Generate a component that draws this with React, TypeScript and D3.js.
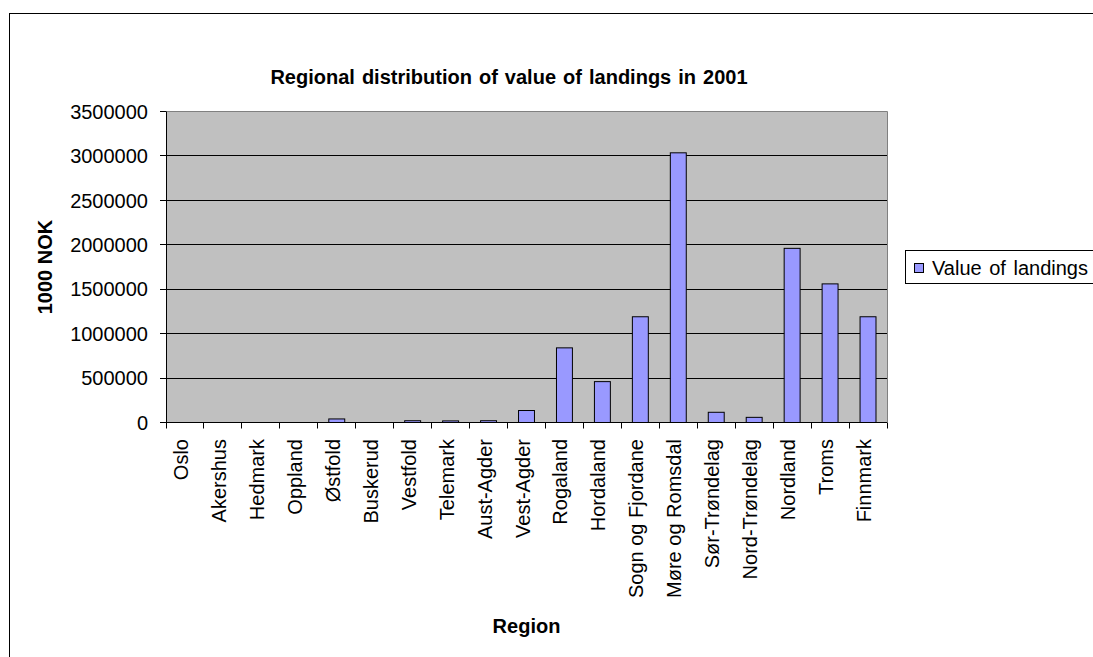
import React from "react";
import * as d3 from "d3";

// Value of landings per county, 1000 NOK
const regions = [
  "Oslo",
  "Akershus",
  "Hedmark",
  "Oppland",
  "Østfold",
  "Buskerud",
  "Vestfold",
  "Telemark",
  "Aust-Agder",
  "Vest-Agder",
  "Rogaland",
  "Hordaland",
  "Sogn og Fjordane",
  "Møre og Romsdal",
  "Sør-Trøndelag",
  "Nord-Trøndelag",
  "Nordland",
  "Troms",
  "Finnmark",
];
const landings = [
  0, 0, 0, 0, 40000, 0, 20000, 18000, 20000, 135000, 840000, 460000, 1190000,
  3035000, 115000, 58000, 1960000, 1560000, 1190000,
];
const yTicks = [0, 500000, 1000000, 1500000, 2000000, 2500000, 3000000, 3500000];

const W = 1093;
const H = 657;
const plot = { left: 166, right: 887, top: 111.5, bottom: 422.5 };
const FONT = "Arial, 'Liberation Sans', Helvetica, sans-serif";

export default function App() {
  const x = d3
    .scaleBand<string>()
    .domain(regions)
    .range([plot.left, plot.right])
    .paddingInner(0)
    .paddingOuter(0);
  const y = d3.scaleLinear().domain([0, 3500000]).range([plot.bottom, plot.top]);
  const barW = x.bandwidth() * 0.42;
  const snap = (v: number) => Math.round(v - 0.5) + 0.5;

  return (
    <svg
      width={W}
      height={H}
      style={{ position: "absolute", left: 0, top: 0, background: "#fff" }}
      fontFamily={FONT}
    >
      {/* chart frame */}
      <rect x={9.5} y={13.5} width={1200} height={800} fill="#fff" stroke="#000" strokeWidth={1} />

      {/* title */}
      <text
        x={509}
        y={84}
        textAnchor="middle"
        fontSize={20}
        fontWeight="bold"
        wordSpacing={1.5}
        fill="#000"
      >
        Regional distribution of value of landings in 2001
      </text>

      {/* plot background */}
      <rect
        x={plot.left}
        y={plot.top}
        width={plot.right - plot.left}
        height={plot.bottom - plot.top}
        fill="#c0c0c0"
      />
      {/* plot border (top & right) */}
      <path
        d={`M${plot.left},${plot.top}H${snap(plot.right)}V${plot.bottom}`}
        fill="none"
        stroke="#808080"
        strokeWidth={1}
      />

      {/* gridlines */}
      {yTicks.slice(1, -1).map((t) => (
        <line
          key={`g${t}`}
          x1={plot.left}
          x2={plot.right}
          y1={snap(y(t))}
          y2={snap(y(t))}
          stroke="#000"
          strokeWidth={1}
        />
      ))}

      {/* bars */}
      {landings.map((v, i) => {
        const cx = (x(regions[i]) as number) + x.bandwidth() / 2;
        const top = y(v);
        const h = plot.bottom - top;
        if (h < 0.5) return null;
        return (
          <rect
            key={`b${i}`}
            x={cx - barW / 2}
            y={top}
            width={barW}
            height={h}
            fill="#9999ff"
            stroke="#000"
            strokeWidth={1}
          />
        );
      })}

      {/* y axis */}
      <line x1={snap(plot.left)} x2={snap(plot.left)} y1={plot.top} y2={plot.bottom} stroke="#000" />
      {yTicks.map((t) => (
        <g key={`yt${t}`}>
          <line
            x1={plot.left - 6}
            x2={plot.left}
            y1={snap(y(t))}
            y2={snap(y(t))}
            stroke="#000"
          />
          <text
            x={148}
            y={y(t)}
            dy="0.36em"
            textAnchor="end"
            fontSize={20}
            fill="#000"
          >
            {t}
          </text>
        </g>
      ))}

      {/* x axis */}
      <line x1={plot.left} x2={plot.right} y1={snap(plot.bottom)} y2={snap(plot.bottom)} stroke="#000" />
      {regions.map((r, i) => (
        <line
          key={`xt${i}`}
          x1={snap(x(r) as number)}
          x2={snap(x(r) as number)}
          y1={plot.bottom}
          y2={plot.bottom + 6}
          stroke="#000"
        />
      ))}
      <line
        x1={snap(plot.right)}
        x2={snap(plot.right)}
        y1={plot.bottom}
        y2={plot.bottom + 6}
        stroke="#000"
      />
      {regions.map((r) => {
        const cx = (x(r) as number) + x.bandwidth() / 2;
        return (
          <text
            key={`xl${r}`}
            transform={`translate(${cx + 3},${439}) rotate(-90)`}
            textAnchor="end"
            fontSize={20}
            fill="#000"
          >
            {r}
          </text>
        );
      })}

      {/* axis titles */}
      <text
        transform={`translate(52,${(plot.top + plot.bottom) / 2}) rotate(-90)`}
        textAnchor="middle"
        fontSize={20}
        fontWeight="bold"
        fill="#000"
      >
        1000 NOK
      </text>
      <text
        x={(plot.left + plot.right) / 2}
        y={633}
        textAnchor="middle"
        fontSize={20}
        fontWeight="bold"
        fill="#000"
      >
        Region
      </text>

      {/* legend */}
      <rect x={905.5} y={250.5} width={200} height={33} fill="#fff" stroke="#000" />
      <rect x={914.5} y={263.5} width={9} height={9} fill="#9999ff" stroke="#000" />
      <text x={932} y={275} fontSize={20} wordSpacing={2} fill="#000">
        Value of landings
      </text>
    </svg>
  );
}
